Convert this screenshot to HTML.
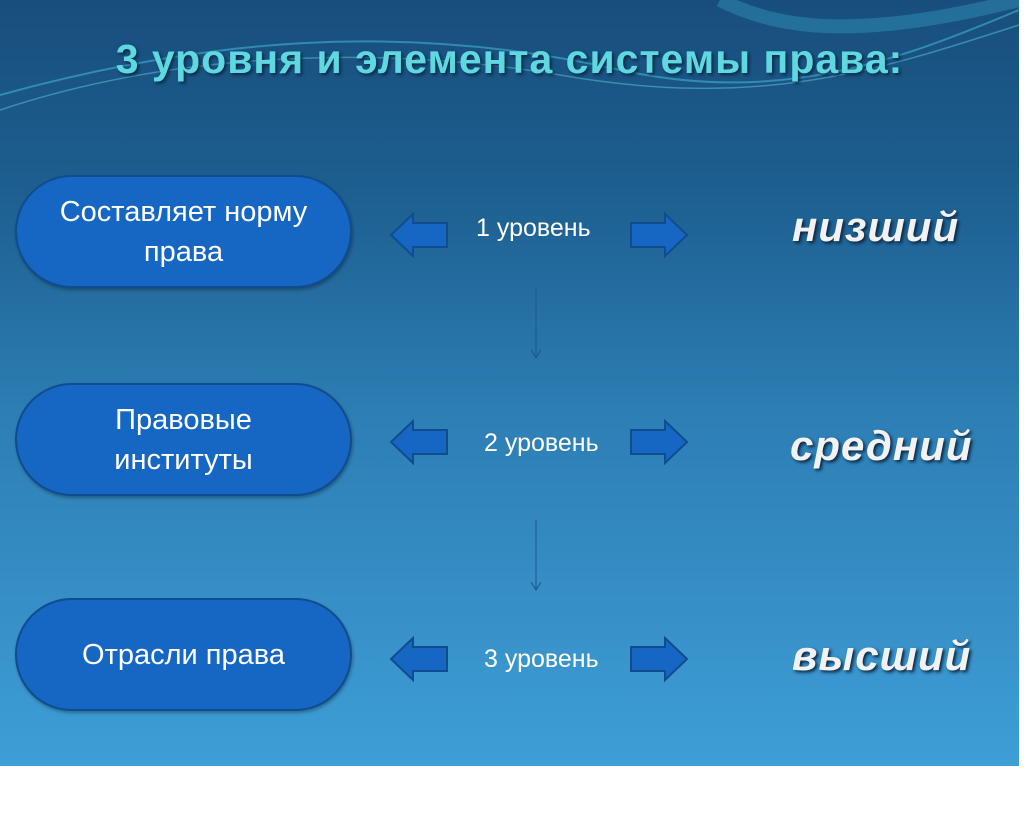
<!DOCTYPE html>
<html><head><meta charset="utf-8"><style>
body{margin:0;width:1024px;height:819px;background:#fff;position:relative;overflow:hidden;font-family:"Liberation Sans","DejaVu Sans",sans-serif}
#s{position:absolute;left:0;top:0;width:1019px;height:766px;background:linear-gradient(#184e7c 0%,#1d5f90 25%,#2d7fb5 55%,#3e9ed6 100%);overflow:hidden}
.t{position:absolute;left:0;width:1019px;top:36px;text-align:center;font-size:41px;font-weight:bold;color:#5fd8e0;text-shadow:2px 2px 3px #0b2a48;letter-spacing:1px}
.b{position:absolute;left:15px;width:337px;height:113px;border:2px solid #0f4d8e;border-radius:57px;background:#1667c4;color:#fff;font-size:29px;display:flex;align-items:center;justify-content:center;text-align:center;line-height:40px;box-sizing:border-box;box-shadow:1px 2px 3px rgba(0,0,0,.3)}
.l{position:absolute;color:#fff;font-size:25px}
.r{position:absolute;color:#f2f2f2;font-size:42px;font-style:italic;font-weight:bold;text-shadow:2px 2px 3px #0a2540;letter-spacing:1px}
svg{position:absolute;left:0;top:0}
</style></head><body><div id="s">
<svg width="1019" height="766">
<path d="M0 95 C200 40 400 20 620 70 C780 105 900 60 1019 10" stroke="#3fb2d0" stroke-width="2" fill="none" opacity=".6"/>
<path d="M0 110 C150 60 350 40 560 75 C760 110 880 70 1019 25" stroke="#5cc6d8" stroke-width="1.5" fill="none" opacity=".5"/>
<path d="M720 0 C780 30 860 40 1019 0" stroke="#2d8fb8" stroke-width="14" fill="none" opacity=".5"/>
<g fill="#1667c4" stroke="#0f4d8e" stroke-width="2">
<path d="M391 235 L413 214 L413 223 L447 223 L447 247 L413 247 L413 256 Z"/>
<path d="M687 235 L665 214 L665 223 L631 223 L631 247 L665 247 L665 256 Z"/>
<path d="M391 442 L413 421 L413 430 L447 430 L447 454 L413 454 L413 463 Z"/>
<path d="M687 442 L665 421 L665 430 L631 430 L631 454 L665 454 L665 463 Z"/>
<path d="M391 659 L413 638 L413 647 L447 647 L447 671 L413 671 L413 680 Z"/>
<path d="M687 659 L665 638 L665 647 L631 647 L631 671 L665 671 L665 680 Z"/>
</g>
<g stroke="#1d5590" stroke-width="1" fill="none">
<line x1="536" y1="288" x2="536" y2="358"/><path d="M531 350 L536 358 L541 350"/>
<line x1="536" y1="520" x2="536" y2="590"/><path d="M531 582 L536 590 L541 582"/>
</g>
</svg>
<div class="t">3 уровня и элемента системы права:</div>
<div class="b" style="top:175px">Составляет норму<br>права</div>
<div class="b" style="top:383px">Правовые<br>институты</div>
<div class="b" style="top:598px">Отрасли права</div>
<div class="l" style="left:476px;top:214px">1 уровень</div>
<div class="l" style="left:484px;top:429px">2 уровень</div>
<div class="l" style="left:484px;top:645px">3 уровень</div>
<div class="r" style="left:792px;top:203px">низший</div>
<div class="r" style="left:790px;top:422px">средний</div>
<div class="r" style="left:792px;top:632px">высший</div>
</div></body></html>
